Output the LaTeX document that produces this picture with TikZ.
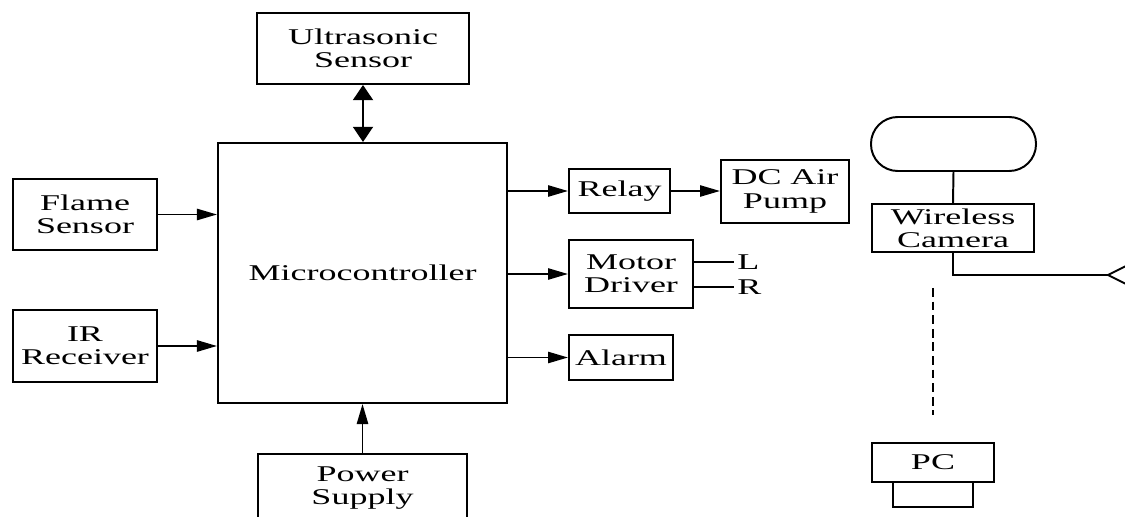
\documentclass[tikz,border=0pt]{standalone}
\usepackage{fontspec}
\setmainfont{Liberation Serif}[FakeStretch=1.6]
\usetikzlibrary{positioning,calc,arrows.meta}

\begin{document}
\begin{tikzpicture}[x=0.025cm, y=-0.025cm,
  block/.style={draw, line width=1.4pt, align=center, inner sep=0pt, font=\fontsize{16}{16.5}\selectfont},
  wire/.style={line width=1.4pt},
  sig/.style={wire, -{Triangle[length=0.5cm,width=0.28cm]}},
  lbl/.style={inner sep=0pt, font=\fontsize{16}{16.5}\selectfont}]
  \clip (0,0) rectangle (1125,517);

  % Controller and its inputs
  \node[block, minimum width=7.225cm, minimum height=6.5cm] (mcu) at (362.5,273) {Microcontroller};
  \node[block, minimum width=5.3cm, minimum height=1.775cm] (ultra) at (363,48.5) {Ultrasonic\\Sensor};
  \node[block, minimum width=3.6cm, minimum height=1.775cm] (flame) at (85,214.5) {Flame\\Sensor};
  \node[block, minimum width=3.6cm, minimum height=1.8cm] (ir) at (85,346) {IR\\Receiver};
  \node[block, minimum width=5.225cm, minimum height=1.7cm] (power) at (362.5,488) {Power\\Supply};

  \draw[wire, {Triangle[length=0.38cm,width=0.5cm]}-{Triangle[length=0.38cm,width=0.5cm]}] (ultra.south) -- (ultra.south |- mcu.north);
  \draw[sig] (flame.east) -- (flame.east -| mcu.west);
  \draw[sig] (ir.east) -- (ir.east -| mcu.west);
  \draw[sig] (power.north) -- (power.north |- mcu.south);

  % Outputs
  \node[block, minimum width=2.525cm, minimum height=1.1cm] (relay) at (619.5,191) {Relay};
  \node[block, minimum width=3.2cm, minimum height=1.575cm] (pump) at (785,191.5) {DC Air\\Pump};
  \node[block, minimum width=3.1cm, minimum height=1.7cm] (motor) at (631,274) {Motor\\Driver};
  \node[block, minimum width=2.6cm, minimum height=1.125cm] (alarm) at (621,357.5) {Alarm};

  \draw[sig] (mcu.east |- relay.west) -- (relay.west);
  \draw[sig] (relay.east) -- (relay.east -| pump.west);
  \draw[sig] (mcu.east |- motor.west) -- (motor.west);
  \draw[sig] (mcu.east |- alarm.west) -- (alarm.west);

  \node[lbl, anchor=west] (wheelL) at (737,262) {L};
  \node[lbl, anchor=west] (wheelR) at (737,287) {R};
  \draw[wire] (motor.east |- wheelL) -- ([xshift=-2pt]wheelL.west);
  \draw[wire] (motor.east |- wheelR) -- ([xshift=-2pt]wheelR.west);

  % Camera link
  \node[block, minimum width=4.125cm, minimum height=1.35cm, rounded corners=0.67cm] (cloud) at (953.5,144) {};
  \node[block, minimum width=4.05cm, minimum height=1.2cm] (camera) at (953,228) {Wireless\\Camera};
  \draw[wire] (cloud.south) -- (camera.north);

  \coordinate (ant) at (1108,275);
  \coordinate (antup) at (1132,263);
  \coordinate (antdn) at (1132,287);
  \draw[wire] (camera.south) |- (ant);
  \draw[wire] (antup) -- (ant) -- (antdn);

  % PC
  \coordinate (dtop) at (933,288);
  \coordinate (dbot) at (933,415);
  \draw[wire, dash pattern=on 0.22cm off 0.12cm] (dtop) -- (dbot);

  \node[block, minimum width=3.05cm, minimum height=0.975cm] (pc) at (933,462.5) {PC};
  \draw[wire] ([xshift=-1cm]pc.south) -- ++(0,24) -| ([xshift=1cm]pc.south);
\end{tikzpicture}
\end{document}
